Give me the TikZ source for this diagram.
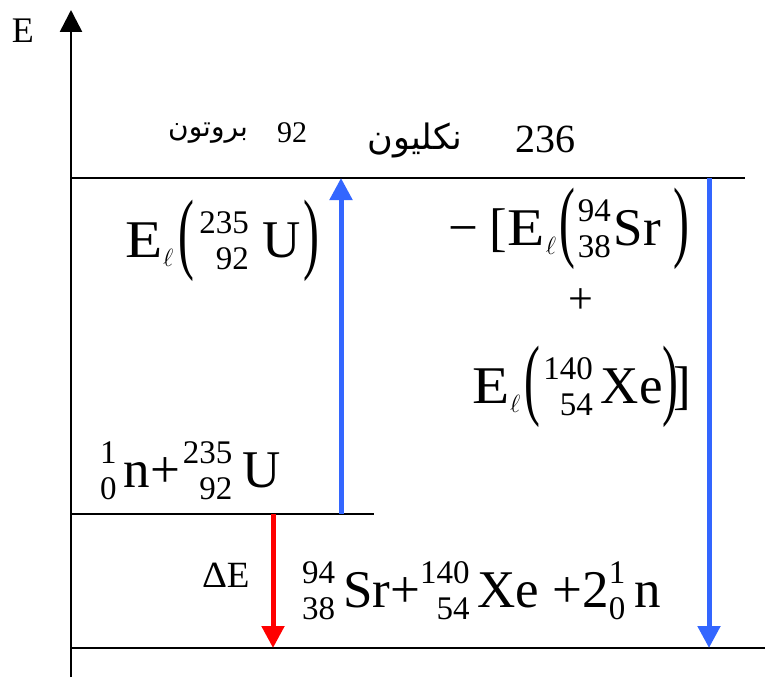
\documentclass[tikz,border=0pt]{standalone}
\usepackage{fontspec}
\usepackage{graphicx}
\setmainfont{Liberation Serif}
\newfontfamily\arabicfont[Script=Arabic]{DejaVu Sans}
\TeXXeTstate=1
\usetikzlibrary{arrows.meta}
\definecolor{myblue}{RGB}{51,102,255}
\definecolor{myred}{RGB}{255,0,0}
\newcommand\mainsz{\fontsize{53}{60}\selectfont}
\newcommand\scsz{\fontsize{33}{36}\selectfont}
\newcommand\stk[2]{{\scsz\setbox0=\hbox{#1}\setbox2=\hbox{#2}%
  \ifdim\wd0>\wd2 \dimen0=\wd0 \else\dimen0=\wd2 \fi
  \hbox to\dimen0{\hss\raisebox{24pt}{\box0}}\kern-\dimen0
  \hbox to\dimen0{\hss\raisebox{-12pt}{\box2}}}}
\newcommand\lpar{\raisebox{-5pt}{\scalebox{0.9}[1.7]{(}}}
\newcommand\rpar{\raisebox{-5pt}{\scalebox{0.9}[1.7]{)}}}
\newcommand\El{\scalebox{1.15}[1]{E}\kern1pt\raisebox{-9pt}{\fontsize{30}{30}\selectfont$\ell$}}
\begin{document}
\begin{tikzpicture}[x=1pt,y=-1pt,
  lvl/.style={line width=2.6pt,black},
  axis/.style={line width=2.6pt,black,-{Triangle[width=22pt,length=22pt]}},
  barrow/.style={line width=5pt,myblue,-{Triangle[width=22pt,length=22pt]}},
  rarrow/.style={line width=5pt,myred,-{Triangle[width=22pt,length=22pt]}},
  txt/.style={inner sep=0pt,outer sep=0pt,font=\mainsz},
  ar/.style={inner sep=0pt,outer sep=0pt}]
\useasboundingbox[fill=white] (0,0) rectangle (765,677);
% axis
\coordinate (axbot) at (71,677);
\coordinate (axtop) at (71,10);
\draw[axis] (axbot) -- (axtop);
\node[txt,anchor=base west,font=\fontsize{36}{36}\selectfont] (elab) at (12,43) {E};
% levels
\coordinate (topL) at (71,178); \coordinate (topR) at (745,178);
\coordinate (midL) at (71,514); \coordinate (midR) at (374,514);
\coordinate (botL) at (71,648); \coordinate (botR) at (765,648);
\draw[lvl] (topL) -- (topR);
\draw[lvl] (midL) -- (midR);
\draw[lvl] (botL) -- (botR);
% arrows
\coordinate (bu1) at (341,514); \coordinate (bu2) at (341,178);
\coordinate (bd1) at (709,178); \coordinate (bd2) at (709,648);
\coordinate (rd1) at (273,514); \coordinate (rd2) at (273,648);
\draw[barrow] (bu1) -- (bu2);
\draw[barrow] (bd1) -- (bd2);
\draw[rarrow] (rd1) -- (rd2);
% arabic texts
\node[ar] (prot) at (208,133) {\arabicfont\fontsize{28}{28}\selectfont\beginR بروتون\endR};
\node[txt,anchor=base west,font=\fontsize{30}{30}\selectfont] (n92) at (277,142) {92};
\node[ar] (nucl) at (415,140) {\arabicfont\fontsize{35}{35}\selectfont\beginR نكليون\endR};
\node[txt,anchor=base west,font=\fontsize{40}{40}\selectfont] (n236) at (515,152) {236};
% formulas
\node[txt,anchor=base west] (fU) at (125,257) {\El\kern5pt\lpar\kern5pt\stk{235}{92}\kern14pt U\kern2pt\rpar};
\node[txt,anchor=base west] (fSr) at (448,245) {−\kern12pt[\El\kern4pt\lpar\kern2pt\stk{94}{38}\kern3pt Sr\kern12pt\rpar};
\node[txt,font=\fontsize{44}{44}\selectfont] (plus) at (581,301) {+};
\node[txt,anchor=base west] (fXe) at (472,403) {\El\kern4pt\lpar\kern3pt\stk{140}{54}\kern8pt Xe\rpar\kern-5pt]};
\node[txt,anchor=base west] (freact) at (100,487) {\stk{1}{0}\kern7pt n+\kern3pt\stk{235}{92}\kern10pt U};
\node[txt,anchor=base west,font=\fontsize{37}{37}\selectfont] (dE) at (202,587) {\scalebox{1.05}[1]{Δ}E};
\node[txt,anchor=base west] (fprod) at (302,607) {\stk{94}{38}\kern8pt Sr+\stk{140}{54}\kern8pt Xe +2\stk{1}{0}\kern9pt n};
\end{tikzpicture}
\end{document}
